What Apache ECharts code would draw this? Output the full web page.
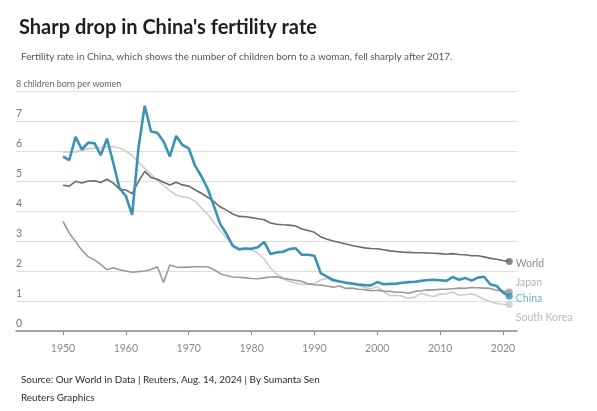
<!DOCTYPE html>
<html>
<head>
<meta charset="utf-8">
<script src="https://cdn.jsdelivr.net/npm/echarts@6/dist/echarts.min.js"></script>
<style>
html,body{margin:0;padding:0;background:#fff;}
#chart{width:597px;height:411px;}
</style>
</head>
<body>
<div id="chart"></div>
<script>
const years = [1950,1951,1952,1953,1954,1955,1956,1957,1958,1959,
1960,1961,1962,1963,1964,1965,1966,1967,1968,1969,
1970,1971,1972,1973,1974,1975,1976,1977,1978,1979,
1980,1981,1982,1983,1984,1985,1986,1987,1988,1989,
1990,1991,1992,1993,1994,1995,1996,1997,1998,1999,
2000,2001,2002,2003,2004,2005,2006,2007,2008,2009,
2010,2011,2012,2013,2014,2015,2016,2017,2018,2019,
2020,2021];

const china = [5.81,5.70,6.47,6.05,6.28,6.26,5.86,6.41,5.60,4.75,
4.50,3.87,6.09,7.51,6.65,6.61,6.32,5.82,6.50,6.20,
6.09,5.51,5.16,4.75,4.17,3.57,3.24,2.84,2.72,2.75,
2.74,2.79,2.97,2.57,2.62,2.64,2.73,2.76,2.54,2.54,
2.51,1.93,1.81,1.70,1.65,1.61,1.58,1.55,1.53,1.52,
1.63,1.56,1.57,1.58,1.61,1.63,1.64,1.67,1.70,1.71,
1.69,1.67,1.80,1.71,1.77,1.68,1.78,1.81,1.55,1.50,
1.28,1.16];

const world = [4.86,4.83,4.99,4.93,5.00,5.01,4.95,5.06,4.93,4.73,
4.70,4.58,4.98,5.32,5.12,5.06,4.96,4.87,4.96,4.87,
4.83,4.71,4.59,4.46,4.31,4.14,4.03,3.90,3.82,3.81,
3.78,3.74,3.71,3.60,3.56,3.54,3.53,3.50,3.40,3.35,
3.29,3.14,3.06,3.00,2.95,2.90,2.85,2.81,2.77,2.75,
2.74,2.71,2.67,2.65,2.63,2.62,2.61,2.61,2.60,2.59,
2.58,2.56,2.58,2.55,2.54,2.51,2.51,2.47,2.42,2.39,
2.35,2.32];

const japan = [3.65,3.26,2.98,2.69,2.48,2.37,2.22,2.04,2.11,2.04,
2.00,1.96,1.98,2.00,2.05,2.14,1.62,2.20,2.13,2.12,
2.13,2.14,2.14,2.14,2.05,1.91,1.85,1.80,1.79,1.77,
1.75,1.74,1.77,1.80,1.81,1.76,1.72,1.69,1.66,1.57,
1.54,1.53,1.50,1.46,1.50,1.42,1.43,1.39,1.38,1.34,
1.36,1.33,1.32,1.29,1.29,1.26,1.32,1.34,1.37,1.37,
1.39,1.39,1.41,1.43,1.42,1.45,1.44,1.43,1.42,1.36,
1.33,1.30];

const southKorea = [5.97,5.97,5.97,6.02,6.07,6.09,6.11,6.14,6.15,6.10,
6.00,5.85,5.62,5.42,5.22,5.02,4.85,4.68,4.53,4.47,
4.44,4.33,4.10,3.90,3.62,3.35,3.10,2.88,2.75,2.75,
2.70,2.60,2.40,2.10,1.90,1.75,1.65,1.60,1.56,1.56,
1.57,1.70,1.76,1.65,1.66,1.63,1.57,1.52,1.45,1.41,
1.48,1.31,1.18,1.19,1.16,1.09,1.13,1.26,1.19,1.15,
1.23,1.24,1.30,1.19,1.21,1.24,1.17,1.05,0.98,0.92,
0.89,0.88];

const xTicks = [1950,1960,1970,1980,1990,2000,2010,2020];
const yTicks = [0,1,2,3,4,5,6,7,8];
const yUnitLabel = '8 children born per women';

const FONT = 'Lato, "Noto Sans", sans-serif';

function pairs(vals){ return years.map((y,i)=>[y, vals[i]]); }
function lastPoint(vals){ return [[years[years.length-1], vals[vals.length-1]]]; }

const seriesDefs = [
  {name:'South Korea', data:southKorea, color:'#cccccc', width:1.6, labelColor:'#a6a6a6', offset:[0,13], z:2},
  {name:'Japan', data:japan, color:'#9a9a9a', width:1.6, labelColor:'#a0a0a0', offset:[0,-9], z:3},
  {name:'World', data:world, color:'#6b6b6b', width:1.6, labelColor:'#707070', offset:[0,2], z:4},
  {name:'China', data:china, color:'#3a93b4', width:2.6, labelColor:'#4a9cbb', offset:[0,2], z:5}
];

const series = [];
seriesDefs.forEach(d=>{
  series.push({
    name:d.name, type:'line', data:pairs(d.data), symbol:'none', z:d.z,
    lineStyle:{color:d.color, width:d.width}, silent:true, animation:false
  });
  series.push({
    name:d.name+' end', type:'scatter', data:lastPoint(d.data), symbol:'circle', symbolSize:7, z:d.z+10,
    itemStyle:{color:d.color}, silent:true, animation:false,
    label:{show:true, position:'right', distance:3, offset:d.offset, formatter:d.name,
      color:d.labelColor, fontSize:10.5, fontWeight:'normal', fontFamily:FONT}
  });
});

const chart = echarts.init(document.getElementById('chart'), null, {renderer:'canvas'});
chart.setOption({
  animation:false,
  backgroundColor:'#fff',
  title:[
    {text:"Sharp drop in China's fertility rate", left:14, top:13,
     textStyle:{fontFamily:FONT, fontWeight:'bold', fontSize:20, color:'#1e1e1e'}},
    {text:'Fertility rate in China, which shows the number of children born to a woman, fell sharply after 2017.', left:16, top:47,
     textStyle:{fontFamily:FONT, fontWeight:'normal', fontSize:9.9, color:'#555'}},
    {text:'Source: Our World in Data | Reuters, Aug. 14, 2024 | By Sumanta Sen', left:16, top:370,
     textStyle:{fontFamily:FONT, fontWeight:'normal', fontSize:9.9, color:'#2a2a2a'}},
    {text:'Reuters Graphics', left:16, top:388,
     textStyle:{fontFamily:FONT, fontWeight:'normal', fontSize:9.9, color:'#2a2a2a'}}
  ],
  grid:{left:16, right:80, top:91, bottom:80, containLabel:false},
  xAxis:{
    type:'value', min:1942.52, max:2022.23,
    axisLine:{show:true, lineStyle:{color:'#8a8a8a', width:1.5}},
    axisTick:{show:true, length:4, lineStyle:{color:'#8a8a8a', width:1}, customValues:xTicks},
    axisLabel:{customValues:xTicks, color:'#8a8a8a', fontSize:10.5, fontFamily:FONT, margin:12,
      formatter:v=>String(v)},
    splitLine:{show:false}
  },
  yAxis:{
    type:'value', min:0, max:8, interval:1,
    axisLine:{show:false}, axisTick:{show:false},
    axisLabel:{inside:true, margin:0, verticalAlign:'bottom', padding:[0,0,2,0],
      color:'#777', fontSize:10.5, fontFamily:FONT,
      rich:{u:{fontSize:8.9, fontFamily:FONT, color:'#666'}},
      formatter:v=> v===8 ? '{u|' + yUnitLabel + '}' : String(v)},
    splitLine:{show:true, lineStyle:{color:'#dedede', width:1.2}}
  },
  series:series
});
</script>
</body>
</html>
